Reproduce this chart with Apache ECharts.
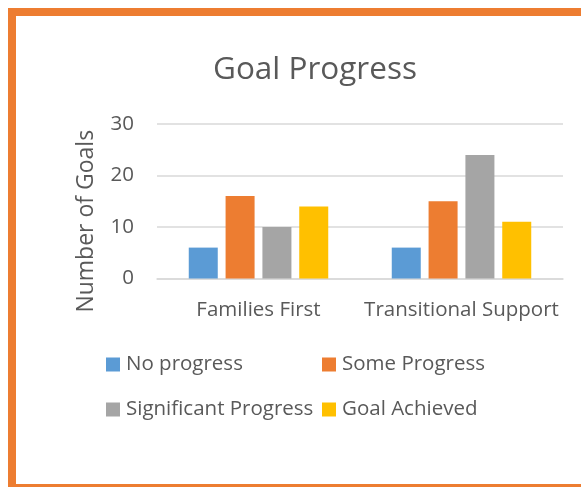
<!DOCTYPE html>
<html><head><meta charset="utf-8">
<script src="https://cdn.jsdelivr.net/npm/echarts@6/dist/echarts.min.js"></script>
<style>
html,body{margin:0;padding:0;background:#fff;overflow:hidden;}
#c{position:absolute;left:0;top:0;width:581px;height:487px;}
#b{position:absolute;left:8px;top:8px;width:600px;height:468px;border:8px solid #ED7D31;pointer-events:none;}
</style></head><body>
<div id="c"></div><div id="b"></div>
<script>
const categories = ['Families First', 'Transitional Support'];
const seriesNames = ['No progress', 'Some Progress', 'Significant Progress', 'Goal Achieved'];
const noProgress = [6, 6];
const someProgress = [16, 15];
const significantProgress = [10, 24];
const goalAchieved = [14, 11];
const yTicks = [0, 10, 20, 30];
const colors = ['#5B9BD5', '#ED7D31', '#A5A5A5', '#FFC000'];
const values = [noProgress, someProgress, significantProgress, goalAchieved];
const font = 'Open Sans';
const txt = '#595959';
const legendPos = [[106, 354], [322, 354], [106, 399], [322, 399]];
const chart = echarts.init(document.getElementById('c'));
chart.setOption({
  animation: false,
  title: {text: 'Goal Progress', left: 208, top: 49,
    textStyle: {fontFamily: font, fontSize: 31.5, fontWeight: 'normal', color: txt}},
  legend: seriesNames.map((n, i) => ({
    data: [n], left: legendPos[i][0], top: legendPos[i][1], padding: 0, itemWidth: 14, itemHeight: 14, itemGap: 5,
    icon: 'rect', textStyle: {fontFamily: font, fontSize: 20.5, color: txt, padding: [0, 0, 0, 1]}
  })),
  grid: {left: 157, top: 124, width: 406, height: 154.5, containLabel: false},
  xAxis: {type: 'category', data: categories,
    axisLine: {lineStyle: {color: '#D9D9D9', width: 1.5}}, axisTick: {show: false},
    axisLabel: {fontFamily: font, fontSize: 20.5, color: txt, margin: 21, interval: 0}},
  yAxis: {type: 'value', min: 0, max: 30, interval: 10,
    name: 'Number of Goals', nameLocation: 'middle', nameRotate: 90, nameGap: 59,
    nameTextStyle: {fontFamily: font, fontSize: 23, color: txt, padding: [0, 40, 0, 0]},
    axisLine: {show: false}, axisTick: {show: false},
    splitLine: {lineStyle: {color: '#D9D9D9', width: 1.5}},
    axisLabel: {fontFamily: font, fontSize: 20.5, color: txt, margin: 23,
      formatter: v => yTicks.includes(v) ? String(v) : ''}},
  series: seriesNames.map((n, i) => ({
    name: n, type: 'bar', data: values[i], barWidth: 29, barGap: '27%',
    itemStyle: {color: colors[i]}
  }))
});
</script></body></html>
